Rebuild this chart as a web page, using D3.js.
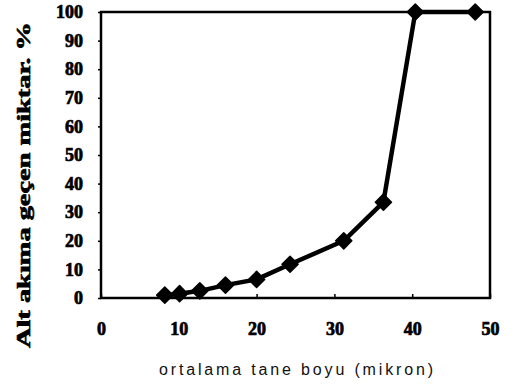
<!DOCTYPE html>
<html>
<head>
<meta charset="utf-8">
<script src="https://cdn.jsdelivr.net/npm/d3@7"></script>
<style>
  body { margin: 0; background: #fff; }
  svg { display: block; }
</style>
</head>
<body>
<svg></svg>
<script>
var margin = {top: 12, right: 28, bottom: 87, left: 101},
    width = 518 - margin.left - margin.right,
    height = 385 - margin.top - margin.bottom;

// mean grain size (micron) vs cumulative undersize %
var sizes = [8.2, 10.1, 12.7, 16, 20, 24.3, 31.2, 36.3, 40.4, 48.1];
var passing = [1, 1.5, 2.5, 4.5, 6.5, 11.8, 20, 33.5, 100, 100];
var xTicks = [0, 10, 20, 30, 40, 50];
var yTicks = [0, 10, 20, 30, 40, 50, 60, 70, 80, 90, 100];

var data = sizes.map(function(s, i) { return {x: s, y: passing[i]}; });

var svg = d3.select("svg")
    .attr("width", width + margin.left + margin.right)
    .attr("height", height + margin.top + margin.bottom),
  g = svg.append("g").attr("transform", "translate(" + margin.left + "," + margin.top + ")");

var xScale = d3.scaleLinear().domain([0, 50]).range([0, width]);
var yScale = d3.scaleLinear().domain([0, 100]).range([height, 0]);

function styleAxis(a) {
  a.select(".domain").remove();
  a.attr("font-family", "Liberation Serif, Times New Roman, serif")
   .attr("font-size", 18)
   .attr("font-weight", "bold");
  a.selectAll(".tick line").attr("stroke-width", 1.5);
  a.selectAll(".tick text").attr("stroke", "#000").attr("stroke-width", 0.7);
}

// x axis, small ticks pointing into the plot
var xAxis = g.append("g")
    .attr("transform", "translate(0," + height + ")")
    .call(d3.axisBottom(xScale).tickValues(xTicks).tickSizeInner(-4).tickSizeOuter(0).tickPadding(24));
styleAxis(xAxis);

// y axis
var yAxis = g.append("g")
    .call(d3.axisLeft(yScale).tickValues(yTicks).tickSizeInner(3).tickSizeOuter(0).tickPadding(15));
styleAxis(yAxis);

// frame
g.append("rect")
    .attr("x", 0).attr("y", 0)
    .attr("width", width).attr("height", height)
    .attr("fill", "none")
    .attr("stroke", "#000")
    .attr("stroke-width", 2.5);

var line = d3.line()
    .x(function(d) { return xScale(d.x); })
    .y(function(d) { return yScale(d.y); });

g.append("path")
    .datum(data)
    .attr("d", line)
    .attr("fill", "none")
    .attr("stroke", "#000")
    .attr("stroke-width", 4.5)
    .attr("stroke-linejoin", "round");

g.selectAll(".pt")
    .data(data)
    .enter().append("path")
    .attr("class", "pt")
    .attr("d", d3.symbol(d3.symbolSquare).size(130))
    .attr("transform", function(d) { return "translate(" + xScale(d.x) + "," + yScale(d.y) + ") rotate(45)"; })
    .attr("fill", "#000")
    .attr("stroke", "#000")
    .attr("stroke-width", 1.5)
    .attr("stroke-linejoin", "round");

// axis titles
svg.append("text")
    .attr("transform", "translate(30,185) rotate(-90)")
    .attr("text-anchor", "middle")
    .attr("font-family", "Liberation Serif, Times New Roman, serif")
    .attr("font-weight", "bold")
    .attr("font-size", 18)
    .attr("stroke", "#000")
    .attr("stroke-width", 0.6)
    .attr("textLength", 326)
    .attr("lengthAdjust", "spacingAndGlyphs")
    .text("Alt akıma geçen miktar. %");

svg.append("text")
    .attr("x", 296)
    .attr("y", 375)
    .attr("text-anchor", "middle")
    .attr("font-family", "Liberation Sans, Arial, sans-serif")
    .attr("font-size", 16)
    .attr("fill", "#111")
    .attr("textLength", 274)
    .attr("lengthAdjust", "spacing")
    .text("ortalama tane boyu (mikron)");
</script>
</body>
</html>
